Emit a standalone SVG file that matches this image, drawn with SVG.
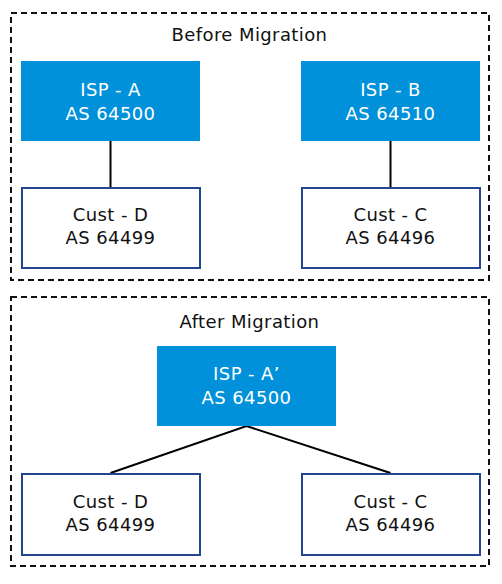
<svg xmlns="http://www.w3.org/2000/svg" width="502" height="584" viewBox="0 0 502 584">
<style>
.frame{fill:none;stroke:#111;stroke-width:2;stroke-dasharray:6 4}
.isp{fill:#0091DA}
.cust{fill:#fff;stroke:#23478F;stroke-width:2}
text{font-family:"DejaVu Sans",sans-serif;font-size:18px;letter-spacing:0.4px;text-anchor:middle}
.w{fill:#fff}
.k{fill:#111}
.conn{stroke:#000;stroke-width:2;fill:none}
</style>
<rect width="502" height="584" fill="#fff"/>
<g id="before">
<rect class="frame" x="11" y="13" width="478" height="267"/>
<text class="k" x="249.5" y="41">Before Migration</text>
</g>
<g id="after">
<rect class="frame" x="11" y="297" width="478" height="269"/>
<text class="k" x="249.5" y="327.5">After Migration</text>
</g>
<g id="connectors">
<line class="conn" x1="110.5" y1="141" x2="110.5" y2="187"/>
<line class="conn" x1="390.5" y1="141" x2="390.5" y2="187"/>
<polyline class="conn" points="110.5,473 246.5,426 390.5,473"/>
</g>
<g id="isp-a">
<rect class="isp" x="21" y="61" width="179" height="80"/>
<text class="w" x="110.5" y="96">ISP - A</text>
<text class="w" x="110.5" y="119.5">AS 64500</text>
</g>
<g id="isp-b">
<rect class="isp" x="301" y="61" width="179" height="80"/>
<text class="w" x="390.5" y="96">ISP - B</text>
<text class="w" x="390.5" y="119.5">AS 64510</text>
</g>
<g id="cust-d-before">
<rect class="cust" x="22" y="188" width="178" height="80"/>
<text class="k" x="110.5" y="220.5">Cust - D</text>
<text class="k" x="110.5" y="243.5">AS 64499</text>
</g>
<g id="cust-c-before">
<rect class="cust" x="302" y="188" width="178" height="80"/>
<text class="k" x="390.5" y="220.5">Cust - C</text>
<text class="k" x="390.5" y="243.5">AS 64496</text>
</g>
<g id="isp-a-prime">
<rect class="isp" x="157" y="346" width="179" height="80"/>
<text class="w" x="246.5" y="380">ISP - A’</text>
<text class="w" x="246.5" y="403.5">AS 64500</text>
</g>
<g id="cust-d-after">
<rect class="cust" x="22" y="474" width="178" height="81"/>
<text class="k" x="110.5" y="507.5">Cust - D</text>
<text class="k" x="110.5" y="530.5">AS 64499</text>
</g>
<g id="cust-c-after">
<rect class="cust" x="302" y="474" width="178" height="81"/>
<text class="k" x="390.5" y="507.5">Cust - C</text>
<text class="k" x="390.5" y="530.5">AS 64496</text>
</g>
</svg>
